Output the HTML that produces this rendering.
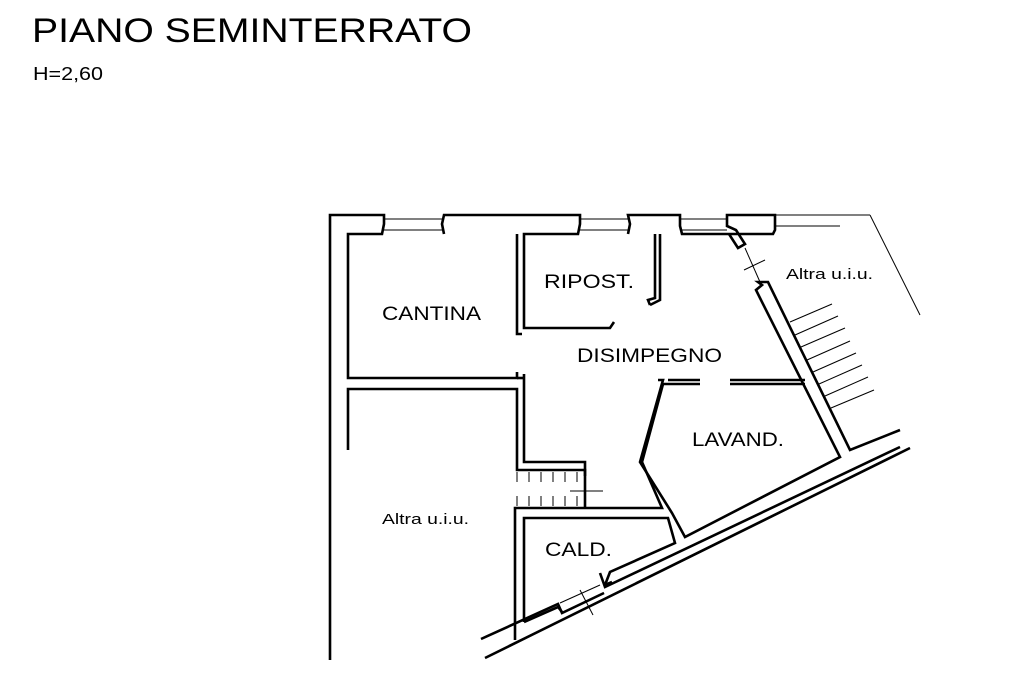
<!DOCTYPE html>
<html><head><meta charset="utf-8"><style>
html,body{margin:0;padding:0;background:#fff;}
svg{display:block;}
text{font-family:"Liberation Sans",sans-serif;fill:#000;}
</style></head><body>
<svg width="1024" height="683" viewBox="0 0 1024 683" xmlns="http://www.w3.org/2000/svg">
<text x="32" y="42" font-size="34.5" textLength="440" lengthAdjust="spacingAndGlyphs">PIANO SEMINTERRATO</text>
<text x="33" y="80" font-size="18" textLength="70" lengthAdjust="spacingAndGlyphs">H=2,60</text>
<g fill="none" stroke="#000" stroke-width="2.6" stroke-linejoin="miter">
<polyline points="330,660 330,215 384,215 384,224 382,234 348,234 348,378 517,378 517,372"/>
<polyline points="444,234 442,224 444,215 580,215 580,224 578,234 524,234 524,328 610,328 614,322"/>
<polyline points="517,234 517,334 522,334"/>
<polyline points="628,234 630,224 628,215 680,215 680,226 682,234 729,234 738,248 745,244 736,230 727,226 727,215 775,215 775,230 773,234 727,234"/>
<polyline points="660,234 660,300 650,305"/>
<polyline points="655,234 655,298 648,300 650,305"/>
<polyline points="348,450 348,389 517,389 517,470 585,470 585,476"/>
<polyline points="524,374 524,462 585,462 585,476 585,508"/>
<polyline points="517,378 524,378"/>
<polyline points="515,640 515,508 662,508 642,462 663,384 700,384"/>
<polyline points="668,380 700,380"/>
<polyline points="524,622 524,518 668,518 675,543 610,572 605,585"/>
<polyline points="658,380 663,380 640,462 672,513 685,537 840,457 760,298 756,290 762,285 758,282 768,282 850,450 900,430"/>
<polyline points="730,380 805,380"/>
<polyline points="730,384 805,384"/>
<polyline points="605,585 612,582"/>
<polyline points="524,622 558,607 562,612"/>
<polyline points="481,639 558,604 562,613 604,593"/>
<polyline points="600,573 605,587 900,447"/>
<polyline points="485,658 910,448"/>
</g>
<g fill="none" stroke="#000" stroke-width="1">
<line x1="384" y1="219" x2="444" y2="219"/><line x1="384" y1="230" x2="444" y2="230"/>
<line x1="580" y1="219" x2="628" y2="219"/><line x1="580" y1="230" x2="628" y2="230"/>
<line x1="680" y1="219" x2="727" y2="219"/><line x1="680" y1="230" x2="727" y2="230"/>
<line x1="775" y1="215" x2="870" y2="215"/><line x1="775" y1="226" x2="840" y2="226"/>
<polyline points="870,215 920,315"/>
<line x1="745" y1="248" x2="760" y2="282"/>
<line x1="744" y1="270" x2="765" y2="260"/>
<line x1="562" y1="613" x2="604" y2="593"/><line x1="560" y1="603" x2="600" y2="585"/>
<line x1="580" y1="590" x2="593" y2="615"/>
<line x1="790" y1="322" x2="832" y2="304"/>
<line x1="795" y1="335" x2="838" y2="316"/>
<line x1="801" y1="347" x2="845" y2="328"/>
<line x1="807" y1="360" x2="850" y2="341"/>
<line x1="813" y1="372" x2="856" y2="353"/>
<line x1="819" y1="384" x2="862" y2="365"/>
<line x1="825" y1="396" x2="868" y2="377"/>
<line x1="831" y1="408" x2="874" y2="390"/>
<line x1="517" y1="472" x2="517" y2="482"/><line x1="529" y1="472" x2="529" y2="482"/><line x1="541" y1="472" x2="541" y2="482"/><line x1="553" y1="472" x2="553" y2="482"/><line x1="565" y1="472" x2="565" y2="482"/><line x1="577" y1="472" x2="577" y2="482"/>
<line x1="517" y1="496" x2="517" y2="506"/><line x1="529" y1="496" x2="529" y2="506"/><line x1="541" y1="496" x2="541" y2="506"/><line x1="553" y1="496" x2="553" y2="506"/><line x1="565" y1="496" x2="565" y2="506"/><line x1="577" y1="496" x2="577" y2="506"/>
<line x1="570" y1="491" x2="603" y2="491"/>
</g>
<g font-size="19">
<text x="382" y="320" textLength="99" lengthAdjust="spacingAndGlyphs">CANTINA</text>
<text x="544" y="288" textLength="90" lengthAdjust="spacingAndGlyphs">RIPOST.</text>
<text x="577" y="362" textLength="145" lengthAdjust="spacingAndGlyphs">DISIMPEGNO</text>
<text x="692" y="446" textLength="92" lengthAdjust="spacingAndGlyphs">LAVAND.</text>
<text x="545" y="556" textLength="67" lengthAdjust="spacingAndGlyphs">CALD.</text>
</g>
<text x="382" y="524" font-size="15" fill="#333" textLength="87" lengthAdjust="spacingAndGlyphs">Altra u.i.u.</text>
<text x="786" y="279" font-size="15" fill="#333" textLength="87" lengthAdjust="spacingAndGlyphs">Altra u.i.u.</text>
</svg>
</body></html>
